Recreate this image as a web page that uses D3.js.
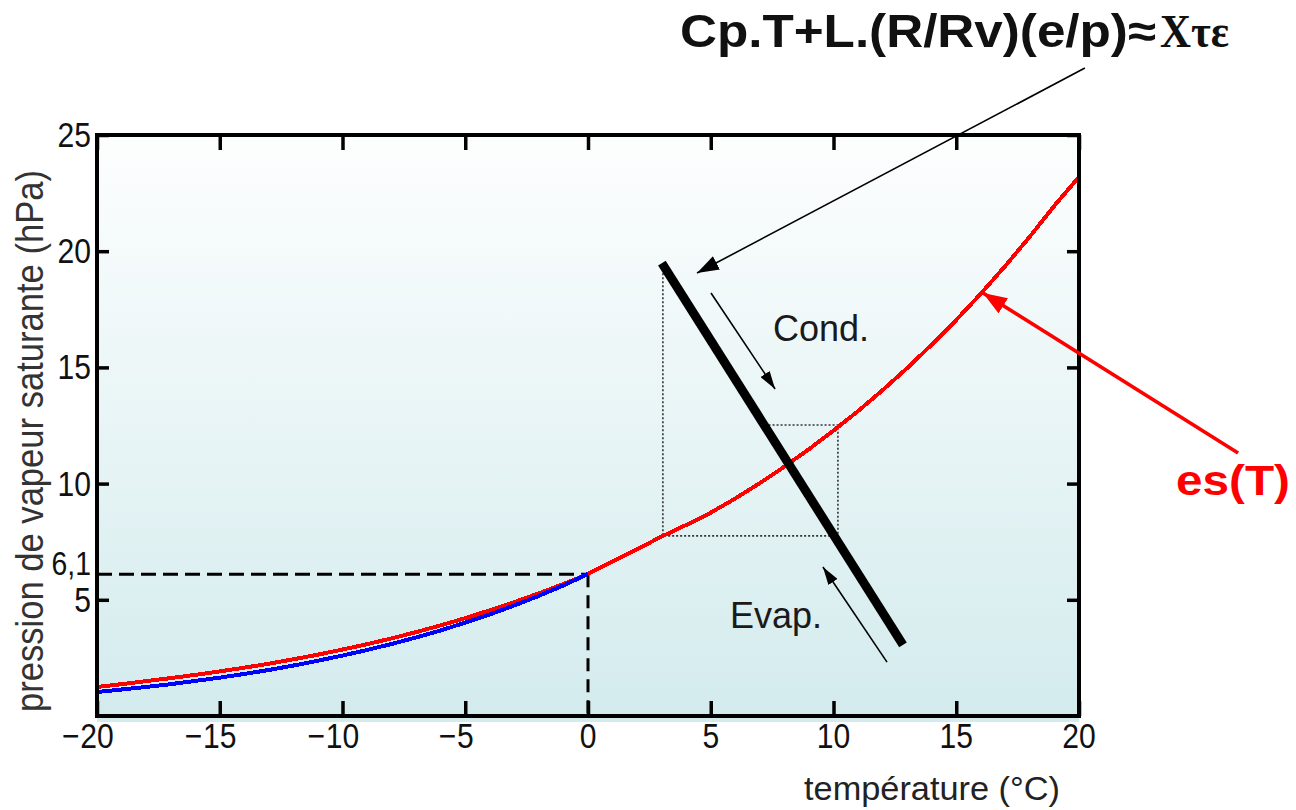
<!DOCTYPE html>
<html>
<head>
<meta charset="utf-8">
<script src="https://cdn.jsdelivr.net/npm/d3@7"></script>
<style>
  html, body { margin: 0; padding: 0; background: #ffffff; }
  svg { display: block; }
</style>
</head>
<body>
<svg id="chart" width="1296" height="810"></svg>
<script>
// ---- data ----
const temps = [-20,-19,-18,-17,-16,-15,-14,-13,-12,-11,-10,-9,-8,-7,-6,-5,-4,-3,-2,-1,0,
               1,2,3,4,5,6,7,8,9,10,11,12,13,14,15,16,17,18,19,20];
const esWater = [1.25,1.37,1.50,1.63,1.77,1.92,2.08,2.25,2.44,2.64,2.86,3.09,3.34,3.61,3.90,4.21,4.55,4.90,5.28,5.68,6.11,
                 6.64,7.18,7.72,8.22,8.75,9.36,10.02,10.73,11.48,12.28,13.12,14.02,14.97,15.98,17.04,18.17,19.37,20.63,21.96,23.20];
const tempsIce = [-20,-19,-18,-17,-16,-15,-14,-13,-12,-11,-10,-9,-8,-7,-6,-5,-4,-3,-2,-1,0];
const esIce = [1.03,1.14,1.25,1.37,1.51,1.65,1.81,1.98,2.17,2.38,2.60,2.84,3.10,3.38,3.68,4.02,4.37,4.76,5.17,5.62,6.11];
const xTicks = [-20,-15,-10,-5,0,5,10,15,20];
const yTicks = [5,10,15,20,25];
const e0Value = 6.1;
const e0Label = "6,1";
const mixingLine = [[3.01,19.49],[12.83,3.06]];
const cycleBox = [[3.05,19.4],[3.05,7.75],[10.18,7.75],[10.18,12.52],[7.2,12.52]];
const titleArrow = [[20.24,27.88],[4.44,19.06]];
const condArrow = [[5.01,18.2],[7.62,14.07]];
const evapArrow = [[12.18,2.32],[9.57,6.41]];
const esArrow = [[26.48,11.32],[16.09,18.2]];
const titleMain = "Cp.T+L.(R/Rv)(e/p)\u2248";
const titleGreek = "\u03A7\u03C4\u03B5";
const xLabel = "température (°C)";
const yLabel = "pression de vapeur saturante (hPa)";

// ---- layout ----
const L = 97, R = 1079, T = 135, B = 716;
const svg = d3.select("#chart");
const x = d3.scaleLinear().domain([-20, 20]).range([L, R]);
const y = d3.scaleLinear().domain([0, 25]).range([B, T]);

const defs = svg.append("defs");
const grad = defs.append("linearGradient").attr("id", "bg").attr("x1", 0).attr("y1", 0).attr("x2", 0).attr("y2", 1);
grad.append("stop").attr("offset", "0%").attr("stop-color", "#fdfefe");
grad.append("stop").attr("offset", "100%").attr("stop-color", "#d3ebed");

function marker(id, w, h, color) {
  defs.append("marker").attr("id", id)
    .attr("markerUnits", "userSpaceOnUse")
    .attr("viewBox", `0 0 ${w} ${h}`)
    .attr("markerWidth", w).attr("markerHeight", h)
    .attr("refX", w).attr("refY", h / 2)
    .attr("orient", "auto")
    .append("path").attr("d", `M0,0 L${w},${h/2} L0,${h} Z`).attr("fill", color);
}
marker("headBig", 22, 15, "#000");
marker("headSmall", 18, 11, "#000");
marker("headRed", 24, 18, "#ff0000");

// background
svg.append("rect").attr("x", L).attr("y", T).attr("width", R - L).attr("height", B - T + 6)
  .attr("fill", "url(#bg)");

// dashed reference lines at e = 6.1, T = 0
svg.append("line")
  .attr("x1", x(-20)).attr("x2", x(0)).attr("y1", y(e0Value)).attr("y2", y(e0Value))
  .attr("stroke", "#000").attr("stroke-width", 3).attr("stroke-dasharray", "15,7");
svg.append("line")
  .attr("x1", x(0)).attr("x2", x(0)).attr("y1", y(e0Value)).attr("y2", y(0))
  .attr("stroke", "#000").attr("stroke-width", 3).attr("stroke-dasharray", "13,8");

// dotted cycle box
const line = d3.line().x(d => x(d[0])).y(d => y(d[1]));
svg.append("path").attr("d", line(cycleBox))
  .attr("fill", "none").attr("stroke", "#333").attr("stroke-width", 1.6).attr("stroke-dasharray", "2,2");

// curves
const curveLine = d3.line().x(d => x(d[0])).y(d => y(d[1]));
svg.append("path").attr("d", curveLine(temps.map((t, i) => [t, esWater[i]])))
  .attr("fill", "none").attr("stroke", "#ff0000").attr("stroke-width", 4)
  .attr("shape-rendering", "crispEdges");
svg.append("path").attr("d", curveLine(tempsIce.map((t, i) => [t, esIce[i]])))
  .attr("fill", "none").attr("stroke", "#0000ff").attr("stroke-width", 4)
  .attr("shape-rendering", "crispEdges");

// thick mixing line
svg.append("path").attr("d", line(mixingLine))
  .attr("fill", "none").attr("stroke", "#000").attr("stroke-width", 9);

// ticks (inward)
const tickStyle = g => { g.select(".domain").remove(); g.selectAll(".tick line").attr("stroke", "#000").attr("stroke-width", 3.5); g.selectAll(".tick text").remove(); };
svg.append("g").attr("transform", `translate(0,${B})`).call(d3.axisTop(x).tickValues(xTicks).tickSize(15)).call(tickStyle);
svg.append("g").attr("transform", `translate(0,${T})`).call(d3.axisBottom(x).tickValues(xTicks).tickSize(15)).call(tickStyle);
svg.append("g").attr("transform", `translate(${L},0)`).call(d3.axisRight(y).tickValues(yTicks).tickSize(12)).call(tickStyle);
svg.append("g").attr("transform", `translate(${R},0)`).call(d3.axisLeft(y).tickValues(yTicks).tickSize(12)).call(tickStyle);

// frame
svg.append("rect").attr("x", L).attr("y", T).attr("width", R - L).attr("height", B - T)
  .attr("fill", "none").attr("stroke", "#000").attr("stroke-width", 4);

// tick labels
const tickFont = "'Liberation Sans', Arial, sans-serif";
const xl = svg.append("g").attr("font-family", tickFont).attr("font-size", 35).attr("fill", "#111");
xTicks.forEach(v => {
  const g = xl.append("g").attr("transform", `translate(${x(v)},748) scale(0.86,1)`);
  const t = g.append("text").attr("text-anchor", "middle").text(Math.abs(v));
  if (v < 0) {
    const w = t.node().getComputedTextLength();
    g.append("text").attr("text-anchor", "end").attr("x", -w / 2 - 1).text("\u2212");
  }
});
const yl = svg.append("g").attr("font-family", tickFont).attr("font-size", 35).attr("fill", "#111");
yTicks.forEach(v => {
  yl.append("g").attr("transform", `translate(91,${y(v) + 12})`)
    .append("text").attr("text-anchor", "end").attr("transform", "scale(0.86,1)").text(v);
});
yl.append("g").attr("transform", `translate(91,${y(e0Value) + 1})`)
  .append("text").attr("text-anchor", "end").attr("font-size", 33).attr("transform", "scale(0.86,1)").text(e0Label);

// axis titles
svg.append("text").attr("x", 804).attr("y", 800)
  .attr("font-family", tickFont).attr("font-size", 33).attr("fill", "#222")
  .attr("textLength", 256).attr("lengthAdjust", "spacingAndGlyphs").text(xLabel);
svg.append("text").attr("transform", "translate(43,441) rotate(-90)")
  .attr("text-anchor", "middle")
  .attr("font-family", tickFont).attr("font-size", 38).attr("fill", "#333")
  .attr("textLength", 542).attr("lengthAdjust", "spacingAndGlyphs").text(yLabel);

// arrows
svg.append("path").attr("d", line(titleArrow)).attr("stroke", "#000").attr("stroke-width", 1.6)
  .attr("fill", "none").attr("marker-end", "url(#headBig)");
svg.append("path").attr("d", line(condArrow)).attr("stroke", "#000").attr("stroke-width", 1.6)
  .attr("fill", "none").attr("marker-end", "url(#headSmall)");
svg.append("path").attr("d", line(evapArrow)).attr("stroke", "#000").attr("stroke-width", 1.6)
  .attr("fill", "none").attr("marker-end", "url(#headSmall)");
svg.append("path").attr("d", line(esArrow)).attr("stroke", "#ff0000").attr("stroke-width", 3.6)
  .attr("fill", "none").attr("marker-end", "url(#headRed)");

// annotation texts
svg.append("text").attr("x", 773).attr("y", 341).attr("font-family", tickFont)
  .attr("font-size", 36).attr("fill", "#1a1a1a").text("Cond.");
svg.append("text").attr("x", 730).attr("y", 628).attr("font-family", tickFont)
  .attr("font-size", 36).attr("fill", "#1a1a1a").text("Evap.");
svg.append("text").attr("x", 1176).attr("y", 495).attr("font-family", tickFont)
  .attr("font-size", 42).attr("font-weight", "bold").attr("fill", "#ff0000")
  .attr("textLength", 114).attr("lengthAdjust", "spacingAndGlyphs").text("es(T)");

// title
svg.append("text").attr("x", 680).attr("y", 47).attr("font-family", tickFont)
  .attr("font-size", 46).attr("font-weight", "bold").attr("fill", "#111")
  .attr("textLength", 476).attr("lengthAdjust", "spacingAndGlyphs").text(titleMain);
svg.append("text").attr("x", 1160).attr("y", 47).attr("font-family", "'Liberation Serif', 'Times New Roman', serif")
  .attr("font-size", 46).attr("font-weight", "bold").attr("fill", "#111")
  .attr("textLength", 69).attr("lengthAdjust", "spacingAndGlyphs").text(titleGreek);
</script>
</body>
</html>
